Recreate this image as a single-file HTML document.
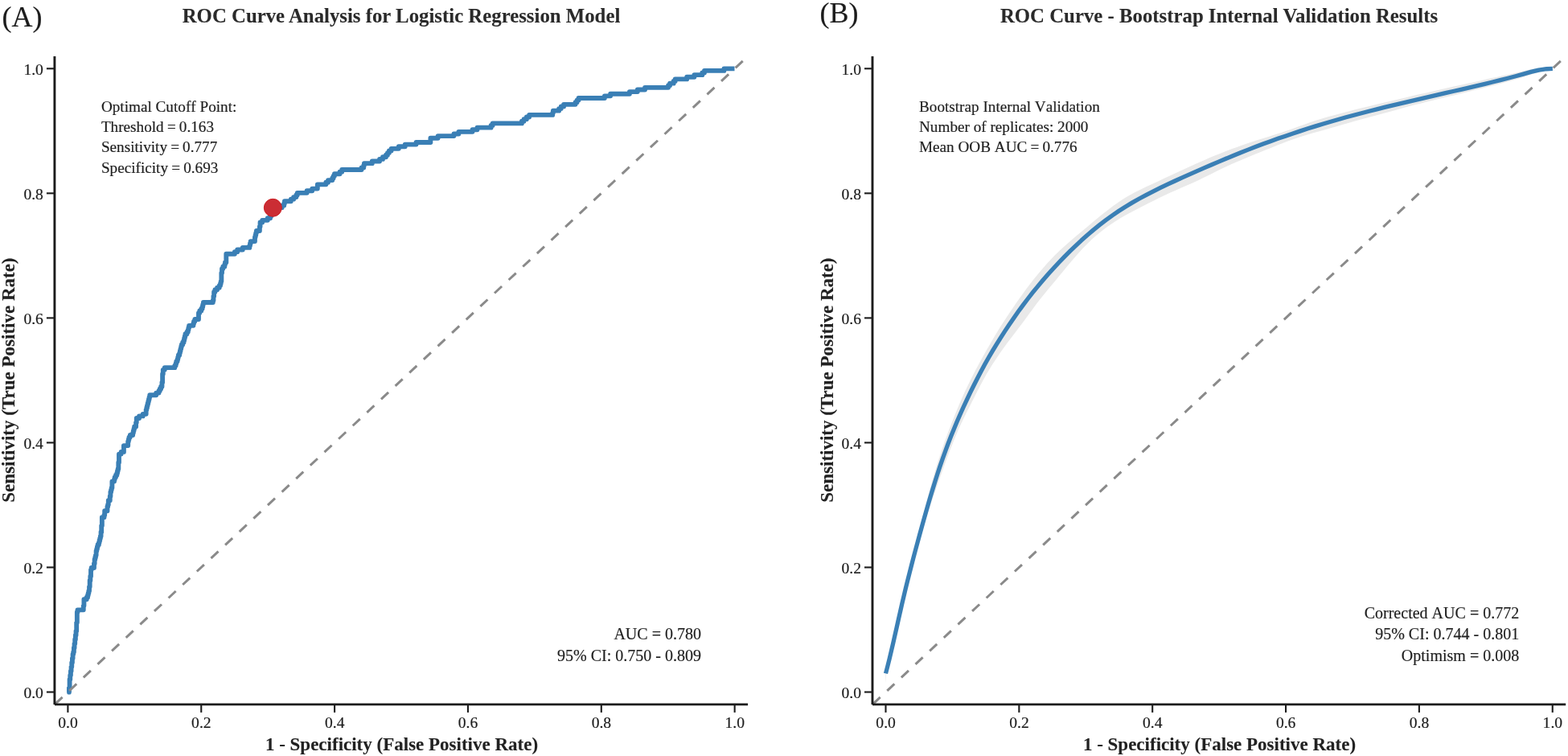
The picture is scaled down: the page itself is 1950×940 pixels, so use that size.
<!DOCTYPE html>
<html lang="en"><head><meta charset="utf-8"><title>ROC Curve Analysis</title>
<style>
html,body{margin:0;padding:0;background:#fff;}
body{width:1950px;height:940px;overflow:hidden;font-family:"Liberation Serif",serif;}
svg{display:block;}
text{font-family:"Liberation Serif",serif;fill:#1c1c1c;stroke:#1c1c1c;stroke-width:0.18px;stroke-linejoin:round;}
.tk{font-size:19.6px;}
.ttl{font-size:24.8px;font-weight:bold;fill:#2a2a2a;stroke:#2a2a2a;stroke-width:0.1px;}
.ax{font-size:23.0px;font-weight:bold;fill:#222;stroke:#222;stroke-width:0.1px;}
.an{font-size:19.2px;fill:#1f1f1f;font-kerning:none;}
.an2{font-size:20.05px;fill:#1f1f1f;font-kerning:none;}
.pl{font-size:36px;fill:#1c1c1c;}
</style></head><body>
<svg width="1950" height="940" viewBox="0 0 1950 940">
<rect width="1950" height="940" fill="#ffffff"/>
<!-- Panel A -->
<g id="panelA">
<polyline points="85.95,860.50 85.95,855.26 86.61,855.26 86.61,844.79 87.27,844.79 87.27,839.55 87.93,839.55 87.93,834.31 88.59,834.31 88.59,829.07 89.25,829.07 89.25,823.84 89.91,823.84 89.91,818.60 90.57,818.60 90.57,813.36 91.23,813.36 91.23,810.74 91.89,810.74 91.89,805.50 92.55,805.50 92.55,800.26 93.21,800.26 93.21,795.03 93.87,795.03 93.87,789.79 94.53,789.79 94.53,784.55 95.19,784.55 95.19,774.08 95.85,774.08 95.85,760.98 96.51,760.98 96.51,758.36 103.77,758.36 103.77,753.12 104.43,753.12 104.43,745.27 107.73,745.27 107.73,742.65 109.05,742.65 109.05,740.03 109.71,740.03 109.71,737.41 110.37,737.41 110.37,734.79 111.03,734.79 111.03,729.55 111.69,729.55 111.69,721.70 112.35,721.70 112.35,716.46 113.01,716.46 113.01,708.60 113.67,708.60 113.67,705.98 116.97,705.98 116.97,700.75 117.63,700.75 117.63,695.51 118.29,695.51 118.29,692.89 118.95,692.89 118.95,690.27 119.61,690.27 119.61,685.03 120.27,685.03 120.27,682.41 120.93,682.41 120.93,679.79 121.59,679.79 121.59,677.18 122.91,677.18 122.91,674.56 123.57,674.56 123.57,671.94 124.23,671.94 124.23,669.32 124.89,669.32 124.89,666.70 125.55,666.70 125.55,661.46 126.21,661.46 126.21,653.61 126.87,653.61 126.87,643.13 129.51,643.13 129.51,640.51 130.17,640.51 130.17,635.27 133.47,635.27 133.47,630.04 134.13,630.04 134.13,627.42 134.79,627.42 134.79,622.18 136.77,622.18 136.77,616.94 137.43,616.94 137.43,611.70 138.09,611.70 138.09,609.08 138.75,609.08 138.75,606.46 139.41,606.46 139.41,598.61 142.05,598.61 142.05,595.99 142.71,595.99 142.71,593.37 144.03,593.37 144.03,590.75 145.35,590.75 145.35,588.13 146.01,588.13 146.01,585.51 146.67,585.51 146.67,582.89 147.33,582.89 147.33,575.04 147.99,575.04 147.99,564.56 150.63,564.56 150.63,561.94 153.93,561.94 153.93,554.09 159.21,554.09 159.21,548.85 159.87,548.85 159.87,546.23 160.53,546.23 160.53,543.61 161.85,543.61 161.85,540.99 165.15,540.99 165.15,538.37 165.81,538.37 165.81,535.75 166.47,535.75 166.47,533.14 167.13,533.14 167.13,530.52 169.11,530.52 169.11,525.28 169.77,525.28 169.77,520.04 173.07,520.04 173.07,517.42 177.69,517.42 177.69,514.80 181.65,514.80 181.65,509.56 182.31,509.56 182.31,506.95 182.97,506.95 182.97,504.33 183.63,504.33 183.63,501.71 184.29,501.71 184.29,499.09 184.95,499.09 184.95,496.47 185.61,496.47 185.61,493.85 186.27,493.85 186.27,491.23 194.19,491.23 194.19,488.61 197.49,488.61 197.49,485.99 198.81,485.99 198.81,483.38 200.13,483.38 200.13,480.76 201.45,480.76 201.45,475.52 202.11,475.52 202.11,465.04 202.77,465.04 202.77,459.81 204.75,459.81 204.75,457.19 217.29,457.19 217.29,454.57 218.61,454.57 218.61,451.95 219.27,451.95 219.27,449.33 220.59,449.33 220.59,446.71 221.25,446.71 221.25,444.09 221.91,444.09 221.91,441.47 223.23,441.47 223.23,438.85 223.89,438.85 223.89,436.24 224.55,436.24 224.55,433.62 225.21,433.62 225.21,431 225.87,431 225.87,428.38 227.19,428.38 227.19,425.76 228.51,425.76 228.51,423.14 229.17,423.14 229.17,420.52 229.83,420.52 229.83,417.90 230.49,417.90 230.49,415.28 232.47,415.28 232.47,412.66 233.79,412.66 233.79,410.05 234.45,410.05 234.45,407.43 235.11,407.43 235.11,404.81 240.39,404.81 240.39,402.19 241.05,402.19 241.05,399.57 242.37,399.57 242.37,396.95 246.99,396.95 246.99,389.09 248.31,389.09 248.31,386.48 250.29,386.48 250.29,383.86 251.61,383.86 251.61,381.24 252.27,381.24 252.27,378.62 252.93,378.62 252.93,376 264.81,376 264.81,373.38 265.47,373.38 265.47,368.14 266.13,368.14 266.13,362.91 267.45,362.91 267.45,360.29 270.09,360.29 270.09,357.67 272.73,357.67 272.73,355.05 274.05,355.05 274.05,352.43 274.71,352.43 274.71,349.81 275.37,349.81 275.37,339.34 276.03,339.34 276.03,334.10 277.35,334.10 277.35,331.48 279.33,331.48 279.33,328.86 279.99,328.86 279.99,326.24 281.31,326.24 281.31,315.76 291.87,315.76 291.87,313.15 295.17,313.15 295.17,310.53 301.77,310.53 301.77,307.91 310.35,307.91 310.35,305.29 311.01,305.29 311.01,302.67 311.67,302.67 311.67,300.05 316.95,300.05 316.95,294.81 317.61,294.81 317.61,292.19 318.27,292.19 318.27,289.58 318.93,289.58 318.93,286.96 322.89,286.96 322.89,281.72 323.55,281.72 323.55,276.48 326.19,276.48 326.19,273.86 332.79,273.86 332.79,271.24 336.09,271.24 336.09,268.62 337.41,268.62 337.41,266.01 339.39,266.01 339.39,258.15 350.61,258.15 350.61,255.53 353.25,255.53 353.25,252.91 353.91,252.91 353.91,250.29 361.83,250.29 361.83,247.67 365.13,247.67 365.13,245.05 368.43,245.05 368.43,242.44 369.75,242.44 369.75,239.82 381.63,239.82 381.63,237.20 388.23,237.20 388.23,234.58 394.83,234.58 394.83,229.34 405.39,229.34 405.39,226.72 408.03,226.72 408.03,224.10 413.31,224.10 413.31,221.48 414.63,221.48 414.63,218.86 415.95,218.86 415.95,216.25 422.55,216.25 422.55,213.63 425.19,213.63 425.19,211.01 449.61,211.01 449.61,208.39 452.25,208.39 452.25,205.77 452.91,205.77 452.91,203.15 462.81,203.15 462.81,200.53 472.05,200.53 472.05,197.91 476.01,197.91 476.01,195.29 479.97,195.29 479.97,192.68 481.95,192.68 481.95,190.06 483.93,190.06 483.93,187.44 486.57,187.44 486.57,184.82 495.81,184.82 495.81,182.20 503.73,182.20 503.73,179.58 517.59,179.58 517.59,176.96 535.41,176.96 535.41,171.72 544.65,171.72 544.65,169.11 564.45,169.11 564.45,166.49 570.39,166.49 570.39,163.87 587.55,163.87 587.55,161.25 593.49,161.25 593.49,158.63 610.65,158.63 610.65,156.01 612.63,156.01 612.63,153.39 648.93,153.39 648.93,150.77 651.57,150.77 651.57,148.15 654.87,148.15 654.87,145.54 658.17,145.54 658.17,142.92 687.21,142.92 687.21,140.30 687.87,140.30 687.87,137.68 695.13,137.68 695.13,135.06 697.77,135.06 697.77,132.44 701.07,132.44 701.07,129.82 715.59,129.82 715.59,127.20 717.57,127.20 717.57,124.58 719.55,124.58 719.55,121.96 751.89,121.96 751.89,119.35 759.15,119.35 759.15,116.73 782.91,116.73 782.91,114.11 792.81,114.11 792.81,111.49 802.05,111.49 802.05,108.87 831.09,108.87 831.09,106.25 833.07,106.25 833.07,103.63 837.69,103.63 837.69,101.01 839.67,101.01 839.67,98.39 854.19,98.39 854.19,95.78 863.43,95.78 863.43,93.16 873.33,93.16 873.33,90.54 875.97,90.54 875.97,87.92 900.39,87.92 900.39,85.30 913.50,85.30" fill="none" stroke="#3a7fb5" stroke-width="5.85" stroke-linejoin="round" stroke-linecap="butt"/><circle cx="85.95" cy="860.7" r="2.85" fill="#3a7fb5"/>
<line x1="67.90" y1="875.92" x2="929.70" y2="70.30" stroke="#8a8a8a" stroke-width="3.0" stroke-dasharray="12.4 11.73" stroke-dashoffset="-0.9"/>
<circle cx="339.35" cy="258.3" r="11.0" fill="#cb2d34" stroke="#cd1d23" stroke-width="1"/>
<line x1="67.90" y1="70.0" x2="67.90" y2="876.10" stroke="#1c1c1c" stroke-width="2.9"/>
<line x1="67.90" y1="875.9" x2="930.10" y2="875.9" stroke="#1c1c1c" stroke-width="2.9"/>
<line x1="84.40" y1="875.9" x2="84.40" y2="885.90" stroke="#1c1c1c" stroke-width="2.1"/>
<line x1="57.90" y1="860.50" x2="67.90" y2="860.50" stroke="#1c1c1c" stroke-width="2.1"/>
<line x1="250.25" y1="875.9" x2="250.25" y2="885.90" stroke="#1c1c1c" stroke-width="2.1"/>
<line x1="57.90" y1="705.46" x2="67.90" y2="705.46" stroke="#1c1c1c" stroke-width="2.1"/>
<line x1="416.10" y1="875.9" x2="416.10" y2="885.90" stroke="#1c1c1c" stroke-width="2.1"/>
<line x1="57.90" y1="550.42" x2="67.90" y2="550.42" stroke="#1c1c1c" stroke-width="2.1"/>
<line x1="581.95" y1="875.9" x2="581.95" y2="885.90" stroke="#1c1c1c" stroke-width="2.1"/>
<line x1="57.90" y1="395.38" x2="67.90" y2="395.38" stroke="#1c1c1c" stroke-width="2.1"/>
<line x1="747.80" y1="875.9" x2="747.80" y2="885.90" stroke="#1c1c1c" stroke-width="2.1"/>
<line x1="57.90" y1="240.34" x2="67.90" y2="240.34" stroke="#1c1c1c" stroke-width="2.1"/>
<line x1="913.65" y1="875.9" x2="913.65" y2="885.90" stroke="#1c1c1c" stroke-width="2.1"/>
<line x1="57.90" y1="85.30" x2="67.90" y2="85.30" stroke="#1c1c1c" stroke-width="2.1"/>
<text class="tk" x="84.50" y="904.8" text-anchor="middle">0.0</text>
<text class="tk" x="53.90" y="868.40" text-anchor="end">0.0</text>
<text class="tk" x="250.35" y="904.8" text-anchor="middle">0.2</text>
<text class="tk" x="53.90" y="713.36" text-anchor="end">0.2</text>
<text class="tk" x="416.20" y="904.8" text-anchor="middle">0.4</text>
<text class="tk" x="53.90" y="558.32" text-anchor="end">0.4</text>
<text class="tk" x="582.05" y="904.8" text-anchor="middle">0.6</text>
<text class="tk" x="53.90" y="403.28" text-anchor="end">0.6</text>
<text class="tk" x="747.90" y="904.8" text-anchor="middle">0.8</text>
<text class="tk" x="53.90" y="248.24" text-anchor="end">0.8</text>
<text class="tk" x="913.75" y="904.8" text-anchor="middle">1.0</text>
<text class="tk" x="53.90" y="93.20" text-anchor="end">1.0</text>
<text class="pl" x="2.6" y="33.2">(A)</text>
<text class="ttl" x="499" y="27.7" text-anchor="middle">ROC Curve Analysis for Logistic Regression Model</text>
<text class="ax" x="499.5" y="932.5" text-anchor="middle">1 - Specificity (False Positive Rate)</text>
<text class="ax" transform="translate(18.4 472.6) rotate(-90)" text-anchor="middle">Sensitivity (True Positive Rate)</text>
<text class="an" x="125.9" y="138.8">Optimal Cutoff Point:</text>
<text class="an" x="125.9" y="164.0">Threshold <tspan dx="-0.6">=</tspan><tspan dx="-0.7"> 0.163</tspan></text>
<text class="an" x="125.9" y="189.4">Sensitivity <tspan dx="-0.6">=</tspan><tspan dx="-0.7"> 0.777</tspan></text>
<text class="an" x="125.9" y="214.6">Specificity <tspan dx="-0.6">=</tspan><tspan dx="-0.7"> 0.693</tspan></text>
<text class="an2" x="872.1" y="795.4" text-anchor="end">AUC = 0.780</text>
<text class="an2" x="872.1" y="821.9" text-anchor="end">95% CI: 0.750 - 0.809</text>
</g>
<!-- Panel B -->
<g id="panelB">
<polygon points="1101.22,837.38 1103.07,829.86 1104.87,822.33 1106.63,814.79 1108.35,807.24 1110.03,799.69 1111.69,792.12 1113.34,784.56 1114.98,776.99 1116.64,769.43 1118.32,761.87 1120.01,754.31 1121.74,746.76 1123.49,739.21 1125.28,731.67 1127.09,724.14 1128.93,716.61 1130.79,709.09 1132.67,701.57 1134.56,694.06 1136.45,686.54 1138.34,679.03 1140.23,671.51 1142.12,664 1144.01,656.48 1145.90,648.97 1147.80,641.45 1149.72,633.94 1151.66,626.43 1153.63,618.92 1155.64,611.42 1157.68,603.93 1159.79,596.45 1161.95,588.98 1164.17,581.53 1166.47,574.09 1168.85,566.67 1171.32,559.27 1173.87,551.91 1176.50,544.57 1179.21,537.27 1181.98,529.98 1184.81,522.71 1187.70,515.46 1190.66,508.23 1193.70,501.04 1196.84,493.89 1200.07,486.79 1203.41,479.75 1206.85,472.74 1210.38,465.79 1213.99,458.85 1217.66,451.95 1221.44,445.04 1225.25,438.22 1229.10,431.41 1233,424.63 1236.99,417.90 1241.07,411.20 1245.26,404.56 1249.49,398.03 1253.79,391.47 1258.18,384.93 1262.60,378.46 1267.10,372.02 1271.67,365.64 1276.33,359.30 1281.08,353.03 1285.94,346.81 1290.89,340.68 1295.97,334.64 1301.15,328.73 1306.49,322.96 1311.98,317.34 1317.64,311.86 1323.43,306.52 1329.34,301.27 1335.31,296.10 1341.33,290.99 1347.36,285.93 1353.41,280.89 1359.47,275.85 1365.57,270.82 1371.72,265.83 1377.98,260.89 1384.36,256.09 1390.85,251.48 1397.49,247.12 1404.28,243.03 1411.21,239.21 1418.26,235.63 1425.34,232.24 1432.49,228.91 1439.64,225.63 1446.75,222.35 1453.82,219.04 1460.88,215.73 1467.94,212.44 1475,209.19 1482.08,205.98 1489.18,202.80 1496.29,199.67 1503.43,196.59 1510.60,193.57 1517.81,190.65 1525.05,187.82 1532.34,185.06 1539.65,182.38 1547,179.76 1554.38,177.23 1561.83,174.80 1569.27,172.47 1576.70,170.16 1584.13,167.83 1591.54,165.45 1598.92,162.98 1606.27,160.42 1613.60,157.81 1620.93,155.18 1628.27,152.60 1635.65,150.12 1643.06,147.76 1650.52,145.53 1658.02,143.41 1665.54,141.38 1673.06,139.41 1680.60,137.49 1688.14,135.61 1695.69,133.76 1703.24,131.93 1710.79,130.11 1718.35,128.30 1725.90,126.49 1733.45,124.69 1741,122.90 1748.55,121.13 1756.10,119.37 1763.65,117.62 1771.20,115.88 1778.75,114.14 1786.29,112.40 1793.82,110.66 1801.43,108.94 1809,107.30 1816.55,105.67 1824.10,104.03 1831.64,102.38 1839.17,100.72 1846.70,99.04 1854.25,97.35 1861.82,95.67 1869.39,94.03 1876.96,92.43 1884.42,90.73 1891.97,88.99 1899.48,87.20 1907.19,85.52 1915,84.25 1922.97,83.50 1930.75,83.23 1930.89,86.40 1923.24,87.64 1915.87,89.22 1908.54,91.21 1901.27,93.48 1893.88,95.92 1886.49,98.22 1878.97,100.45 1871.48,102.46 1863.99,104.43 1856.50,106.38 1848.99,108.31 1841.46,110.22 1833.93,112.11 1826.39,113.98 1818.85,115.83 1811.31,117.65 1803.77,119.44 1796.29,121.26 1788.76,123.10 1781.23,124.93 1773.71,126.78 1766.20,128.66 1758.71,130.59 1751.23,132.57 1743.76,134.60 1736.31,136.66 1728.86,138.72 1721.42,140.76 1713.97,142.76 1706.51,144.75 1699.06,146.73 1691.61,148.76 1684.19,150.84 1676.78,152.97 1669.39,155.12 1661.99,157.24 1654.60,159.34 1647.18,161.41 1639.76,163.48 1632.34,165.58 1624.96,167.76 1617.60,170.05 1610.30,172.49 1603.05,175.07 1595.84,177.77 1588.66,180.56 1581.50,183.41 1574.35,186.28 1567.20,189.16 1560.12,192.05 1553.01,194.97 1545.91,197.91 1538.81,200.89 1531.74,203.96 1524.72,207.14 1517.75,210.47 1510.84,213.90 1503.95,217.39 1497.04,220.84 1490.10,224.19 1483.10,227.43 1476.06,230.54 1469,233.59 1461.95,236.64 1454.96,239.76 1448.03,242.97 1441.19,246.28 1434.41,249.66 1427.60,253.10 1420.84,256.52 1414.10,259.97 1407.38,263.46 1400.73,267.07 1394.17,270.82 1387.75,274.76 1381.44,278.91 1375.26,283.29 1369.23,287.90 1363.37,292.77 1357.69,297.85 1352.20,303.15 1346.88,308.60 1341.72,314.19 1336.68,319.88 1331.72,325.69 1326.85,331.55 1322,337.45 1317.15,343.33 1312.29,349.19 1307.44,355 1302.60,360.81 1297.82,366.67 1293.11,372.60 1288.50,378.62 1283.96,384.71 1279.48,390.83 1274.99,396.96 1270.49,403.03 1265.92,409.11 1261.24,415.21 1256.63,421.25 1252.05,427.36 1247.54,433.54 1243.13,439.80 1238.80,446.13 1234.58,452.52 1230.55,458.97 1226.67,465.57 1222.93,472.26 1219.32,479.04 1215.79,485.87 1212.30,492.71 1208.81,499.56 1205.31,506.41 1201.84,513.26 1198.44,520.14 1195.14,527.09 1191.97,534.10 1188.93,541.16 1186.01,548.28 1183.18,555.44 1180.42,562.62 1177.73,569.82 1175.08,577.04 1172.46,584.28 1169.85,591.54 1167.26,598.80 1164.68,606.09 1162.13,613.38 1159.62,620.69 1157.15,628.02 1154.73,635.37 1152.36,642.74 1150.02,650.12 1147.73,657.51 1145.47,664.92 1143.26,672.34 1141.10,679.77 1138.98,687.22 1136.92,694.68 1134.90,702.15 1132.92,709.63 1130.97,717.12 1129.07,724.63 1127.20,732.14 1125.37,739.66 1123.58,747.18 1121.82,754.72 1120.08,762.27 1118.37,769.82 1116.66,777.37 1114.95,784.92 1113.23,792.48 1111.50,800.02 1109.73,807.57 1107.94,815.11 1106.09,822.63 1104.20,830.15 1102.25,837.64 1101.60,849.50" fill="#e9e9e9"/>
<polyline points="1101.50,837.45 1103.96,827.89 1106.33,818.30 1108.62,808.70 1110.85,799.08 1113.04,789.45 1115.21,779.82 1117.37,770.18 1119.54,760.55 1121.73,750.92 1123.98,741.31 1126.29,731.71 1128.64,722.12 1131.05,712.54 1133.50,702.98 1135.99,693.42 1138.52,683.88 1141.09,674.34 1143.69,664.82 1146.32,655.30 1148.97,645.79 1151.66,636.29 1154.39,626.80 1157.17,617.33 1160.02,607.87 1162.94,598.44 1165.95,589.04 1169.05,579.66 1172.27,570.33 1175.60,561.03 1179.05,551.78 1182.63,542.58 1186.32,533.42 1190.13,524.31 1194.06,515.25 1198.09,506.24 1202.25,497.28 1206.51,488.38 1210.88,479.52 1215.35,470.72 1219.92,461.97 1224.60,453.27 1229.39,444.79 1234.30,436.38 1239.33,428.05 1244.49,419.80 1249.78,411.64 1255.20,403.56 1260.75,395.40 1266.44,387.33 1272.27,379.36 1278.23,371.49 1284.33,363.72 1290.56,356.06 1296.92,348.52 1303.42,341.08 1310.03,333.75 1316.77,326.53 1323.62,319.42 1330.59,312.43 1337.69,305.57 1344.92,298.84 1352.30,292.28 1359.82,285.89 1367.50,279.68 1375.33,273.67 1383.33,267.87 1391.48,262.30 1399.79,256.97 1408.25,251.88 1416.84,247.01 1425.55,242.35 1434.34,237.81 1443.21,233.42 1452.15,229.15 1461.13,224.98 1470.14,220.89 1479.18,216.86 1488.23,212.86 1497.31,208.90 1506.40,204.98 1515.51,201.10 1524.64,197.27 1533.80,193.49 1542.97,189.77 1552.17,186.10 1561.40,182.52 1570.65,179.06 1579.92,175.68 1589.22,172.37 1598.55,169.13 1607.90,165.96 1617.28,162.86 1626.68,159.84 1636.10,156.89 1645.55,154.01 1655.01,151.20 1664.50,148.48 1674.01,145.82 1683.54,143.23 1693.09,140.70 1702.65,138.23 1712.22,135.81 1721.80,133.44 1731.40,131.10 1741,128.81 1750.61,126.55 1760.23,124.31 1769.85,122.09 1779.47,119.87 1789.09,117.65 1798.71,115.41 1808.32,113.28 1817.93,111.12 1827.52,108.92 1837.09,106.67 1846.66,104.35 1856.21,101.98 1865.75,99.61 1875.28,97.25 1884.82,94.75 1894.37,92.13 1903.94,89.40 1913.63,87.08 1923.45,85.73 1930.85,85.40" fill="none" stroke="#3a7fb5" stroke-width="5.3" stroke-linejoin="round" stroke-linecap="butt"/>
<line x1="1085.00" y1="875.92" x2="1946.80" y2="70.30" stroke="#8a8a8a" stroke-width="3.0" stroke-dasharray="12.4 11.73" stroke-dashoffset="-0.9"/>
<line x1="1085.00" y1="70.0" x2="1085.00" y2="876.10" stroke="#1c1c1c" stroke-width="2.9"/>
<line x1="1085.00" y1="875.9" x2="1947.20" y2="875.9" stroke="#1c1c1c" stroke-width="2.9"/>
<line x1="1101.50" y1="875.9" x2="1101.50" y2="885.90" stroke="#1c1c1c" stroke-width="2.1"/>
<line x1="1075.00" y1="860.50" x2="1085.00" y2="860.50" stroke="#1c1c1c" stroke-width="2.1"/>
<line x1="1267.35" y1="875.9" x2="1267.35" y2="885.90" stroke="#1c1c1c" stroke-width="2.1"/>
<line x1="1075.00" y1="705.46" x2="1085.00" y2="705.46" stroke="#1c1c1c" stroke-width="2.1"/>
<line x1="1433.20" y1="875.9" x2="1433.20" y2="885.90" stroke="#1c1c1c" stroke-width="2.1"/>
<line x1="1075.00" y1="550.42" x2="1085.00" y2="550.42" stroke="#1c1c1c" stroke-width="2.1"/>
<line x1="1599.05" y1="875.9" x2="1599.05" y2="885.90" stroke="#1c1c1c" stroke-width="2.1"/>
<line x1="1075.00" y1="395.38" x2="1085.00" y2="395.38" stroke="#1c1c1c" stroke-width="2.1"/>
<line x1="1764.90" y1="875.9" x2="1764.90" y2="885.90" stroke="#1c1c1c" stroke-width="2.1"/>
<line x1="1075.00" y1="240.34" x2="1085.00" y2="240.34" stroke="#1c1c1c" stroke-width="2.1"/>
<line x1="1930.75" y1="875.9" x2="1930.75" y2="885.90" stroke="#1c1c1c" stroke-width="2.1"/>
<line x1="1075.00" y1="85.30" x2="1085.00" y2="85.30" stroke="#1c1c1c" stroke-width="2.1"/>
<text class="tk" x="1101.60" y="904.8" text-anchor="middle">0.0</text>
<text class="tk" x="1071.00" y="868.40" text-anchor="end">0.0</text>
<text class="tk" x="1267.45" y="904.8" text-anchor="middle">0.2</text>
<text class="tk" x="1071.00" y="713.36" text-anchor="end">0.2</text>
<text class="tk" x="1433.30" y="904.8" text-anchor="middle">0.4</text>
<text class="tk" x="1071.00" y="558.32" text-anchor="end">0.4</text>
<text class="tk" x="1599.15" y="904.8" text-anchor="middle">0.6</text>
<text class="tk" x="1071.00" y="403.28" text-anchor="end">0.6</text>
<text class="tk" x="1765.00" y="904.8" text-anchor="middle">0.8</text>
<text class="tk" x="1071.00" y="248.24" text-anchor="end">0.8</text>
<text class="tk" x="1930.85" y="904.8" text-anchor="middle">1.0</text>
<text class="tk" x="1071.00" y="93.20" text-anchor="end">1.0</text>
<text class="pl" x="1019.6" y="27.6">(B)</text>
<text class="ttl" x="1516" y="27.7" text-anchor="middle">ROC Curve - Bootstrap Internal Validation Results</text>
<text class="ax" x="1516.5" y="932.5" text-anchor="middle">1 - Specificity (False Positive Rate)</text>
<text class="ax" transform="translate(1035.5 472.6) rotate(-90)" text-anchor="middle">Sensitivity (True Positive Rate)</text>
<text class="an" x="1143" y="138.8">Bootstrap Internal Validation</text>
<text class="an" x="1143" y="164.0">Number of replicates: 2000</text>
<text class="an" x="1143" y="189.4">Mean OOB AUC <tspan dx="-0.6">=</tspan><tspan dx="-0.7"> 0.776</tspan></text>
<text class="an2" x="1889.3" y="768.9" text-anchor="end">Corrected AUC = 0.772</text>
<text class="an2" x="1889.3" y="795.4" text-anchor="end">95% CI: 0.744 - 0.801</text>
<text class="an2" x="1889.3" y="821.9" text-anchor="end">Optimism = 0.008</text>
</g>
</svg>
</body></html>
